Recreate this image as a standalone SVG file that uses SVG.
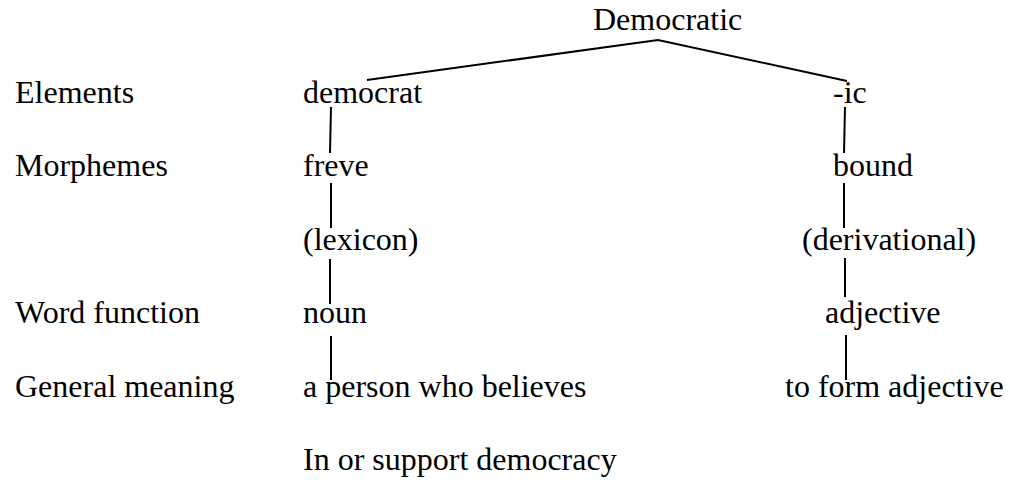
<svg xmlns="http://www.w3.org/2000/svg" width="1010" height="480" viewBox="0 0 1010 480">
  <style>
    text { font-family: "Liberation Serif", "Times New Roman", serif; font-size: 32px; fill: #000; }
    .edge { stroke: #000; stroke-width: 2; fill: none; stroke-linecap: butt; }
  </style>
  <rect width="1010" height="480" fill="#fff"/>

  <!-- row labels -->
  <g id="row-labels">
    <text x="15" y="103">Elements</text>
    <text x="15" y="176">Morphemes</text>
    <text x="15" y="323">Word function</text>
    <text x="15" y="397">General meaning</text>
  </g>

  <!-- root word -->
  <g id="node-root"><text x="593" y="30">Democratic</text></g>

  <!-- left branch: democrat -->
  <g id="node-democrat"><text x="303" y="103">democrat</text></g>
  <g id="node-freve"><text x="303" y="176">freve</text></g>
  <g id="node-lexicon"><text x="303" y="250">(lexicon)</text></g>
  <g id="node-noun"><text x="303" y="323">noun</text></g>
  <g id="node-person">
    <text x="303" y="397">a person who believes</text>
    <text x="303" y="470">In or support democracy</text>
  </g>

  <!-- right branch: -ic -->
  <g id="node-ic"><text x="833" y="103">-ic</text></g>
  <g id="node-bound"><text x="833" y="176">bound</text></g>
  <g id="node-derivational"><text x="802" y="250">(derivational)</text></g>
  <g id="node-adjective"><text x="825" y="323">adjective</text></g>
  <g id="node-form"><text x="785" y="397">to form adjective</text></g>

  <!-- connectors -->
  <g id="connectors" class="edge">
    <polyline class="edge" points="367,80 658,40 847,81"/>
    <line class="edge" x1="331" y1="107" x2="330" y2="153"/>
    <line class="edge" x1="331" y1="183" x2="331" y2="228"/>
    <line class="edge" x1="330" y1="259" x2="330" y2="304"/>
    <line class="edge" x1="331" y1="336" x2="331" y2="380"/>
    <line class="edge" x1="845" y1="107" x2="844" y2="153"/>
    <line class="edge" x1="844" y1="183" x2="844" y2="228"/>
    <line class="edge" x1="845" y1="258" x2="845" y2="297"/>
    <line class="edge" x1="846" y1="335" x2="846" y2="380"/>
  </g>
</svg>
